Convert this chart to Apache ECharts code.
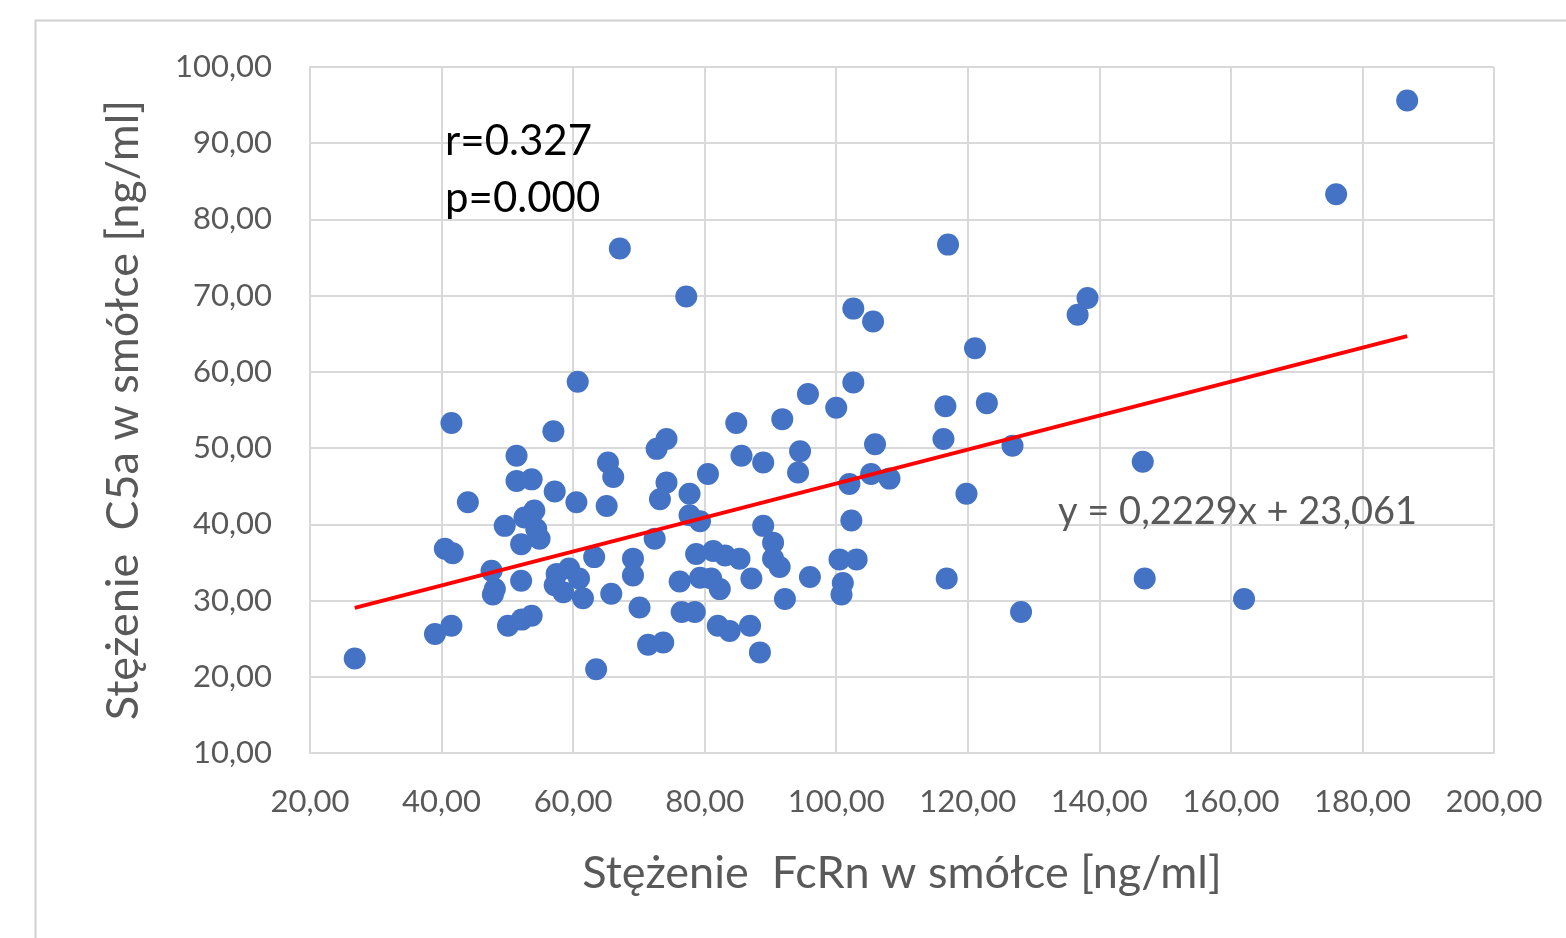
<!DOCTYPE html>
<html>
<head>
<meta charset="utf-8">
<script src="https://cdn.jsdelivr.net/npm/echarts@6/dist/echarts.min.js"></script>
<style>
html,body{margin:0;padding:0;background:#fff;}
#chart{width:1566px;height:938px;}
</style>
</head>
<body>
<div id="chart"></div>
<script>
// FcRn concentration (x) values
const fcrn = [
26.8,67.1,77.2,117.0,186.8,176.0,138.2,136.7,102.6,105.6,
121.1,60.7,102.6,95.7,100.0,116.6,122.9,91.8,84.8,41.5,
57.0,74.2,72.7,116.3,105.9,126.8,94.5,51.4,85.6,88.9,
146.6,65.3,66.1,94.2,80.5,105.3,102.0,108.1,74.2,51.4,
53.7,73.2,44.0,57.2,60.5,65.1,77.7,119.8,49.6,52.6,
54.1,54.4,52.1,54.9,77.7,79.3,102.3,72.4,88.9,90.4,
90.4,91.4,40.5,41.7,47.6,48.1,47.8,52.1,57.5,57.2,
59.4,60.9,63.2,61.5,58.5,65.8,69.1,69.1,70.1,78.7,
81.3,83.1,85.3,76.2,79.3,82.3,87.1,76.5,78.5,82.0,
83.8,86.9,92.2,88.4,71.4,73.7,63.5,39.0,41.5,50.1,
52.2,53.7,96.0,100.5,103.1,101.0,100.8,116.8,128.1,146.9,
162.0,81.0
];
// C5a concentration (y) values
const c5a = [
22.4,76.2,69.9,76.7,95.6,83.3,69.7,67.5,68.3,66.6,
63.1,58.7,58.6,57.1,55.3,55.5,55.9,53.8,53.3,53.3,
52.2,51.2,49.9,51.2,50.5,50.3,49.6,49.0,49.0,48.1,
48.2,48.1,46.2,46.8,46.6,46.6,45.3,46.0,45.5,45.7,
45.9,43.3,42.9,44.3,42.9,42.4,44.0,44.0,39.8,40.9,
41.8,39.4,37.4,38.1,41.2,40.4,40.5,38.1,39.8,37.6,
35.5,34.4,36.8,36.2,33.9,31.5,30.8,32.6,33.5,32.0,
34.2,32.9,35.7,30.3,31.1,30.9,35.5,33.3,29.1,36.1,
36.5,35.9,35.5,32.5,33.0,31.5,32.9,28.5,28.5,26.7,
26.0,26.7,30.2,23.2,24.2,24.5,21.0,25.6,26.7,26.7,
27.5,28.0,33.1,35.4,35.4,32.3,30.8,32.9,28.5,32.9,
30.2,32.9
];
// Trend line (as printed on chart)
const trendSlope = [0.2229];
const trendIntercept = [23.061];
const xTicks = [20,40,60,80,100,120,140,160,180,200];
const yTicks = [10,20,30,40,50,60,70,80,90,100];
const statsText = ['r=0.327','p=0.000'];
const equationText = ['y = 0,2229x + 23,061'];

const points = fcrn.map((x,i)=>[x,c5a[i]]);
const xMin = Math.min(...fcrn), xMax = Math.max(...fcrn);
const trend = [[xMin, trendSlope[0]*xMin+trendIntercept[0]],[xMax, trendSlope[0]*xMax+trendIntercept[0]]];

const fmt = v => v.toFixed(2).replace('.', ',');
const font = 'Lato, "Open Sans", sans-serif';
const chart = echarts.init(document.getElementById('chart'));
chart.setOption({
  backgroundColor:'#ffffff',
  animation:false,
  grid:{left:310,right:72,top:67,bottom:185,containLabel:false},
  xAxis:{
    type:'value',min:xTicks[0],max:xTicks[xTicks.length-1],interval:20,
    name:'Stężenie  FcRn w smółce [ng/ml]',nameLocation:'middle',nameGap:98,
    nameTextStyle:{fontFamily:font,fontSize:45,color:'#595959'},
    axisLine:{show:true,lineStyle:{color:'#d9d9d9',width:2}},
    axisTick:{show:false},
    axisLabel:{formatter:fmt,fontFamily:font,fontSize:31,color:'#595959',margin:33},
    splitLine:{show:true,lineStyle:{color:'#d9d9d9',width:2}}
  },
  yAxis:{
    type:'value',min:yTicks[0],max:yTicks[yTicks.length-1],interval:10,
    name:'Stężenie  C5a w smółce [ng/ml]',nameLocation:'middle',nameGap:164,
    nameTextStyle:{fontFamily:font,fontSize:45,color:'#595959'},
    axisLine:{show:true,lineStyle:{color:'#d9d9d9',width:2}},
    axisTick:{show:false},
    axisLabel:{formatter:fmt,fontFamily:font,fontSize:31,color:'#595959',margin:38},
    splitLine:{show:true,lineStyle:{color:'#d9d9d9',width:2}}
  },
  series:[
    {type:'scatter',data:points,symbol:'circle',symbolSize:22,
     itemStyle:{color:'#4472C4',opacity:1},z:3},
    {type:'line',data:trend,symbol:'none',lineStyle:{color:'#ff0000',width:4},z:4}
  ],
  graphic:[
    {type:'rect',left:33,top:18,shape:{width:1600,height:1000},
     style:{fill:'none',stroke:'#d0d0d0',lineWidth:2},z:-10,silent:true},
    {type:'text',left:445,top:120,z:100,style:{text:statsText[0],font:'42px '+font,fill:'#000000'}},
    {type:'text',left:445,top:177,z:100,style:{text:statsText[1],font:'42px '+font,fill:'#000000'}},
    {type:'text',left:1058,top:493,z:100,style:{text:equationText[0],font:'38px '+font,fill:'#595959'}}
  ]
});
</script>
</body>
</html>
